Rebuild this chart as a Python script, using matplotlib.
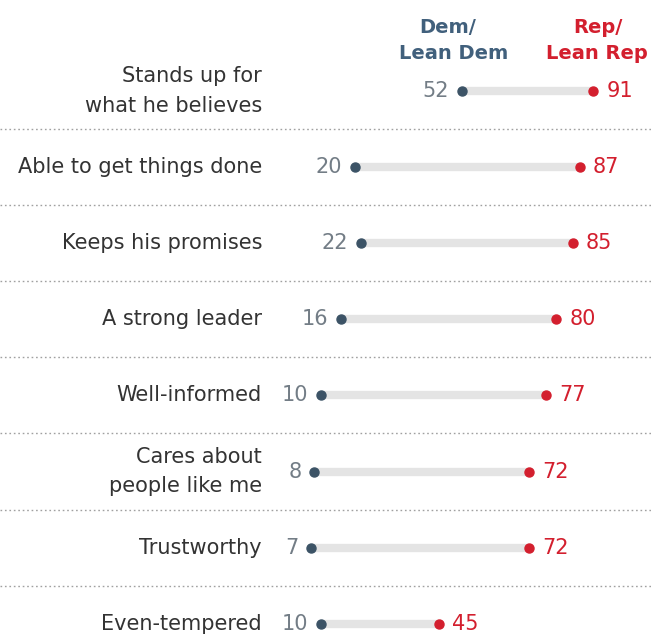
import matplotlib
matplotlib.use("Agg")
import matplotlib.pyplot as plt

plt.rcParams['font.family'] = ['DejaVu Sans']

traits = ["Stands up for\nwhat he believes", "Able to get things done",
          "Keeps his promises", "A strong leader", "Well-informed",
          "Cares about\npeople like me", "Trustworthy", "Even-tempered"]
dem = [52, 20, 22, 16, 10, 8, 7, 10]
rep = [91, 87, 85, 80, 77, 72, 72, 45]

DEM_C = "#3c5366"
REP_C = "#d31f2e"
BAR_C = "#e4e4e4"
HEAD_DEM = "#41607c"

fig = plt.figure(figsize=(6.51, 6.37), dpi=100)
ax = fig.add_axes([0, 0, 1, 1])

# pixel layout: value v -> x px = x0 + k*v ; row i -> y px = 91 + 76.1 i
k = 3.36
x0 = 287.5
ax.set_xlim(-x0 / k, (651 - x0) / k)
ax.set_ylim((637 - 91) / 76.1, -91 / 76.1)
ax.axis("off")

pad = 13 / k
label_x = (262 - x0) / k

for i, (t, d, r) in enumerate(zip(traits, dem, rep)):
    ax.plot([d, r], [i, i], color=BAR_C, lw=6, solid_capstyle="butt", zorder=1)
    ax.plot(d, i, "o", color=DEM_C, ms=6.5, zorder=2)
    ax.plot(r, i, "o", color=REP_C, ms=6.5, zorder=2)
    ax.text(d - pad, i, str(d), ha="right", va="center", color="#737d86", fontsize=15)
    ax.text(r + pad, i, str(r), ha="left", va="center", color=REP_C, fontsize=15)
    ax.text(label_x, i, t, ha="right", va="center", color="#333333", fontsize=15,
            linespacing=1.6)
    if i < len(traits) - 1:
        ax.axhline(i + 0.5, color="#a0a0a0", lw=1, ls=(0, (1.2, 2)), zorder=0)

# column headers
y_top, y_bot = -0.83, -0.49
ax.text(dem[0] - 15 / k, y_top, "Dem/", ha="center", va="center", color=HEAD_DEM,
        fontsize=14, fontweight="bold")
ax.text(dem[0] - 9 / k, y_bot, "Lean Dem", ha="center", va="center", color=HEAD_DEM,
        fontsize=14, fontweight="bold")
ax.text(rep[0] + 5 / k, y_top, "Rep/", ha="center", va="center", color=REP_C,
        fontsize=14, fontweight="bold")
ax.text(rep[0] + 4 / k, y_bot, "Lean Rep", ha="center", va="center", color=REP_C,
        fontsize=14, fontweight="bold")

fig.savefig("out.png", dpi=100)
